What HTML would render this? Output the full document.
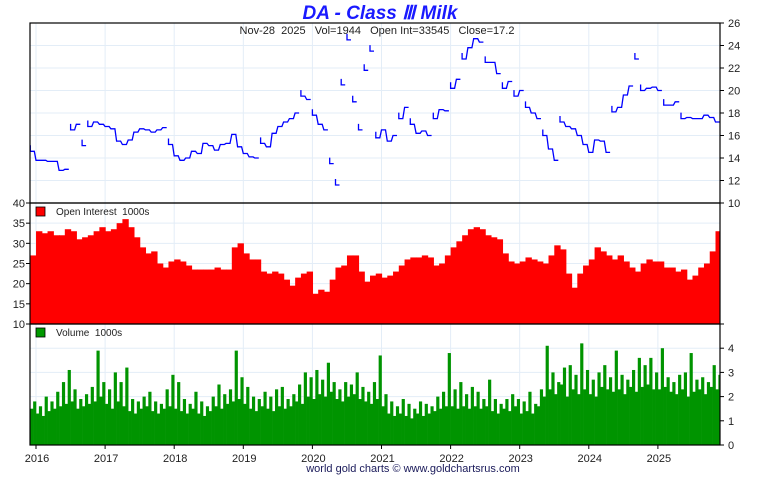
<!DOCTYPE html>
<html><head><meta charset="utf-8"><style>
body{margin:0;background:#fff;}
svg text{font-family:"Liberation Sans",sans-serif;}
</style></head><body>
<svg id="c" width="760" height="475" xmlns="http://www.w3.org/2000/svg">
<g id="grid"></g>
<g id="marks"></g>
<g id="axes"></g>
<text x="380" y="19" text-anchor="middle" font-size="19" font-weight="bold" font-style="italic" fill="#1a1aff">DA  -  Class Ⅲ Milk</text>
<text x="377" y="34" text-anchor="middle" font-size="11" fill="#222" xml:space="preserve">Nov-28  2025   Vol=1944   Open Int=33545   Close=17.2</text>
<rect x="36" y="207" width="9" height="9" fill="#f00" stroke="#000" stroke-width="0.8"/>
<text x="56" y="215" font-size="10" fill="#222" xml:space="preserve">Open Interest  1000s</text>
<rect x="36" y="328" width="9" height="9" fill="#090" stroke="#000" stroke-width="0.8"/>
<text x="56" y="336" font-size="10" fill="#222" xml:space="preserve">Volume  1000s</text>
<text x="413" y="472" text-anchor="middle" font-size="11" fill="#1a1a5a">world gold charts © www.goldchartsrus.com</text>
</svg>
<script>
const years=["2016","2017","2018","2019","2020","2021","2022","2023","2024","2025"];
const priceTicks=[10,12,14,16,18,20,22,24,26];
const oiTicks=[10,15,20,25,30,35,40];
const volTicks=[0,1,2,3,4,5];
const price=[14.6,
13.8,13.8,13.7,13.7,12.9,13.0,16.5,17.0,15.1,16.8,17.2,17.0,
16.8,16.6,15.5,15.2,15.6,16.3,16.6,16.5,16.3,16.5,16.7,15.2,
14.2,13.8,14.0,14.6,14.4,15.3,15.1,14.7,15.2,15.3,16.1,15.0,
14.4,14.1,14.0,15.3,15.0,16.2,16.8,17.2,17.5,18.0,19.5,19.2,
17.8,17.0,16.5,13.5,11.6,20.5,24.5,19.0,16.5,21.8,23.5,15.8,
16.5,15.5,16.0,17.5,18.5,17.0,16.2,16.4,16.0,17.5,18.3,18.2,
20.2,21.0,22.8,23.8,24.6,24.3,22.5,22.5,21.5,20.2,20.8,19.5,
20.0,18.5,18.0,17.5,16.0,14.8,13.8,17.2,16.8,16.6,16.0,15.2,
14.5,15.6,15.5,14.5,18.1,18.5,19.6,20.4,22.8,20.0,20.2,20.3,
20.0,18.7,18.7,19.0,17.5,17.6,17.5,17.5,17.8,17.6,17.2];
const openInterest=[27,
33,32.5,33,32,32,33.5,33,31,31.5,32,33,34,
33,33.5,35,36,34,31.5,29,27.5,28,25,24,25.5,
26,25.5,24.5,23.5,23.5,23.5,23.5,24,23.5,23.5,29,30,
27.5,26,26,23,22.5,23,22.5,21,19.5,21.5,22.5,23,
17.5,18.5,18,21,24,24.5,27,27,23,20.5,22,22.5,
21.5,22,23,24.5,26,26.5,26.5,27,26.5,24.5,25,27,
29,30.5,32,33.5,34,33.5,32,31.5,31,27.5,25.5,25,
25.5,26.5,26,25.5,25,27,29.5,28.5,22.5,19,22.5,24.5,
26,29,28,27,26,27,25.5,24,23,25,26,25.5,
25.5,24,24,23,23.5,21,22,24,25,28,33];
const volume=[1.5,1.8,
1.3,1.6,1.2,2.0,1.4,1.8,1.5,2.2,1.6,2.6,1.7,3.1,1.8,2.3,1.5,1.9,1.6,2.1,1.7,2.4,1.8,3.9,2.0,2.6,
1.7,2.3,1.5,3.0,1.8,2.6,1.6,3.2,1.4,1.9,1.3,1.8,1.5,2.0,1.6,2.2,1.4,1.8,1.3,1.7,1.5,2.3,1.6,2.9,
1.5,2.6,1.4,1.9,1.3,1.7,1.5,2.2,1.3,1.8,1.2,1.6,1.4,2.0,1.6,2.5,1.5,2.1,1.7,2.3,1.8,3.9,1.9,2.8,
1.7,2.4,1.5,2.0,1.4,1.9,1.6,2.2,1.5,2.0,1.4,2.3,1.6,2.4,1.5,1.9,1.6,2.1,1.8,2.5,1.7,3.0,2.0,2.8,
1.9,3.1,2.1,2.7,2.0,3.4,2.2,2.6,1.9,2.3,1.8,2.6,2.0,2.5,2.1,3.0,1.9,2.4,1.8,2.2,1.7,2.6,1.9,3.7,
1.6,2.1,1.3,1.8,1.2,1.6,1.3,1.9,1.2,1.7,1.1,1.5,1.3,1.8,1.2,1.7,1.3,1.6,1.4,2.0,1.5,2.2,1.6,3.8,
1.6,2.3,1.5,2.6,1.6,2.1,1.5,2.4,1.6,2.2,1.5,1.9,1.6,2.7,1.4,1.9,1.3,1.7,1.5,1.9,1.4,2.1,1.6,1.9,
1.3,1.8,1.4,2.2,1.3,1.7,1.6,2.3,2.0,4.1,2.3,3.0,2.1,2.6,2.5,3.2,2.0,3.3,2.3,2.9,2.1,4.2,2.3,3.1,
2.1,2.7,2.0,3.0,2.4,3.3,2.3,2.8,2.2,3.9,2.3,2.9,2.1,2.7,2.4,3.1,2.2,3.6,2.4,3.3,2.5,3.6,2.3,3.0,
2.3,4.0,2.4,2.8,2.2,2.6,2.1,2.9,2.3,3.0,2.0,3.8,2.2,2.7,2.3,2.8,2.1,2.6,2.4,3.3,2.3,2.9];

const NS="http://www.w3.org/2000/svg";
const L=30,R=720,T0=23,B0=203,T1=203,B1=324,T2=324,B2=445;
const X=t=>36+(t-2016)*69.1;
const yP=v=>T0+(26-v)*(B0-T0)/16;
const yO=v=>T1+(40-v)*(B1-T1)/30;
const yV=v=>B2-v*(B2-T2)/5;
const START=2015.917;
function mk(tag,at,parent){const e=document.createElementNS(NS,tag);for(const k in at)e.setAttribute(k,at[k]);parent.appendChild(e);return e;}
const grid=document.getElementById('grid'),marks=document.getElementById('marks'),axes=document.getElementById('axes');
mk('rect',{x:L,y:T0,width:R-L,height:B2-T0,fill:'#fff'},grid);
const gc='#e3edf7';
years.forEach((y,i)=>{const x=X(+y);
 const g=mk('line',{x1:x,x2:x,y1:T0,y2:B2,stroke:gc,'stroke-width':1},grid);
 
 
 const t=mk('text',{x:x+1,y:462,'text-anchor':'middle','font-size':11,fill:'#222'},axes);t.textContent=y;
 
 
 mk('line',{x1:x,x2:x,y1:B2,y2:B2+4,stroke:'#000'},axes);
});
priceTicks.forEach(v=>{const y=yP(v);
 if(v>10&&v<26)mk('line',{x1:L,x2:R,y1:y,y2:y,stroke:gc},grid);
 mk('line',{x1:R,x2:R+4,y1:y,y2:y,stroke:'#000'},axes);
 const t=mk('text',{x:R+8,y:y+4,'font-size':11,fill:'#222'},axes);t.textContent=v;
 
 
});
oiTicks.forEach(v=>{const y=yO(v);
 if(v>10&&v<40)mk('line',{x1:L,x2:R,y1:y,y2:y,stroke:gc},grid);
 mk('line',{x1:L-4,x2:L,y1:y,y2:y,stroke:'#000'},axes);
 const t=mk('text',{x:L-5,y:y+4,'text-anchor':'end','font-size':11,fill:'#222'},axes);t.textContent=v;
 
 
});
volTicks.forEach(v=>{const y=yV(v);
 if(v>0&&v<5)mk('line',{x1:L,x2:R,y1:y,y2:y,stroke:gc},grid);
 mk('line',{x1:R,x2:R+4,y1:y,y2:y,stroke:'#000'},axes);
 if(v<5){const t=mk('text',{x:R+8,y:y+4,'font-size':11,fill:'#222'},axes);t.textContent=v;
 
 }
});
const ow=(R-L)/openInterest.length;
openInterest.forEach((v,i)=>{const x=X(START+i/12);const y=yO(v);
 const r=mk('rect',{x:x,y:y,width:Math.min(ow+0.6,R-x),height:B1-y,fill:'#f00'},marks);
 
 
});
const vw=(R-L)/volume.length;
volume.forEach((v,i)=>{const x=X(START+i/24);const y=yV(v);
 const r=mk('rect',{x:x,y:y,width:Math.min(vw+0.3,R-x),height:B2-y,fill:'#009400'},marks);
 
 
});
let d='';
price.forEach((v,i)=>{const x=X(START+i/12);const y=yP(v);
 const prev=i>0?price[i-1]:v;
 if(Math.abs(v-prev)>1.2||i===0)d+=`M${x.toFixed(1)},${(y-6).toFixed(1)}L${x.toFixed(1)},${y.toFixed(1)}`;
 else d+=`L${x.toFixed(1)},${y.toFixed(1)}`;
 d+=`L${(x+4).toFixed(1)},${y.toFixed(1)}`;
});
const p=mk('path',{d:d,fill:'none',stroke:'#00f','stroke-width':1.3},marks);


[[T0,B0],[T1,B1],[T2,B2]].forEach(([a,b])=>{const f=mk('rect',{x:L,y:a,width:R-L,height:b-a,fill:'none',stroke:'#000','stroke-width':1.2},axes);
 
 });
</script>
</body></html>
